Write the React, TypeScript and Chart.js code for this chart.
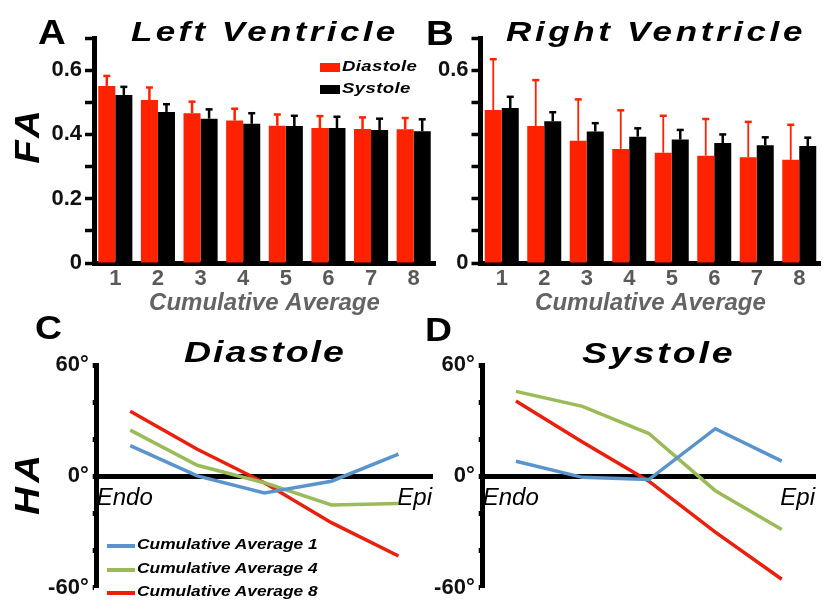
import React, { useEffect, useRef } from "react";
import { Chart, registerables } from "chart.js";

Chart.register(...registerables);

const FONT = "'Liberation Sans', Arial, Helvetica, sans-serif";
Chart.defaults.font.family = FONT;

// ---------- data ----------
const categories = ["1", "2", "3", "4", "5", "6", "7", "8"];

const lvDiastole = [0.551, 0.507, 0.466, 0.443, 0.427, 0.42, 0.417, 0.416];
const lvDiastoleSd = [0.031, 0.039, 0.036, 0.037, 0.035, 0.037, 0.036, 0.035];
const lvSystole = [0.523, 0.47, 0.449, 0.433, 0.426, 0.42, 0.414, 0.41];
const lvSystoleSd = [0.025, 0.024, 0.029, 0.033, 0.032, 0.035, 0.035, 0.037];

const rvDiastole = [0.476, 0.426, 0.38, 0.355, 0.343, 0.334, 0.329, 0.321];
const rvDiastoleSd = [0.158, 0.143, 0.129, 0.12, 0.115, 0.114, 0.11, 0.109];
const rvSystole = [0.482, 0.441, 0.409, 0.393, 0.384, 0.373, 0.366, 0.364];
const rvSystoleSd = [0.035, 0.028, 0.026, 0.026, 0.03, 0.027, 0.025, 0.026];

const faTicks = [0, 0.1, 0.2, 0.3, 0.4, 0.5, 0.6, 0.7];
const faLabelsA = ["0", "0.2", "0.4", "0.6"];
const faLabelsB = ["0", "0.6"];

const wallPositions = [0, 1, 2, 3, 4];
const wallLabels = ["Endo", "Epi"];

const diaCA1 = [16.6, 0.3, -8.9, -2.6, 12.0];
const diaCA4 = [24.9, 6.0, -3.4, -15.4, -14.6];
const diaCA8 = [35.1, 14.6, -3.4, -24.9, -42.9];

const sysCA1 = [8.2, -0.5, -1.7, 25.7, 8.2];
const sysCA4 = [45.8, 37.7, 23.1, -7.7, -28.6];
const sysCA8 = [40.6, 18.5, -2.6, -30.0, -55.4];

const haTicks = [-60, -40, -20, 0, 20, 40, 60];
const haLabels = [-60, 0, 60];

const seriesNames = ["Cumulative Average 1", "Cumulative Average 4", "Cumulative Average 8"];

// ---------- styles ----------
const RED = "#ff2200";
const BLACK = "#000000";
const BLUE = "#5a94cc";
const GREEN = "#9bbb59";
const LINE_RED = "#ea200c";
const GRAY = "#595959";

const errorBars = {
  id: "errorBars",
  afterDatasetsDraw(chart: any) {
    const ctx = chart.ctx;
    const yScale = chart.scales.y;
    chart.data.datasets.forEach((ds: any, di: number) => {
      if (!ds.sd) return;
      const meta = chart.getDatasetMeta(di);
      meta.data.forEach((bar: any, i: number) => {
        const top = yScale.getPixelForValue(ds.data[i] + ds.sd[i]);
        ctx.save();
        ctx.strokeStyle = ds.errColor;
        ctx.lineWidth = ds.errWidth;
        ctx.beginPath();
        ctx.moveTo(bar.x, bar.y);
        ctx.lineTo(bar.x, top);
        ctx.stroke();
        ctx.lineWidth = 2.5;
        ctx.beginPath();
        ctx.moveTo(bar.x - 3.5, top);
        ctx.lineTo(bar.x + 3.5, top);
        ctx.stroke();
        ctx.restore();
      });
    });
  },
};

function barConfig(
  dia: number[], diaSd: number[], sys: number[], sysSd: number[],
  labels: string[], yWidth: number, padRight: number, redErrWidth: number
): any {
  return {
    type: "bar",
    data: {
      labels: categories,
      datasets: [
        { label: "Diastole", data: dia, backgroundColor: RED, sd: diaSd, errColor: RED, errWidth: redErrWidth },
        { label: "Systole", data: sys, backgroundColor: BLACK, sd: sysSd, errColor: BLACK, errWidth: 2.5 },
      ],
    },
    options: {
      animation: false,
      responsive: false,
      layout: { padding: { top: 38, left: 0, right: padRight, bottom: 0 } },
      plugins: { legend: { display: false }, tooltip: { enabled: false } },
      datasets: { bar: { categoryPercentage: 0.8, barPercentage: 1.0 } },
      scales: {
        x: {
          grid: { drawOnChartArea: false, drawTicks: false },
          border: { display: true, color: BLACK, width: 5 },
          ticks: { color: GRAY, font: { size: 22, weight: "bold" }, padding: 3 },
          title: {
            display: true,
            text: "Cumulative Average",
            color: "#646464",
            font: { size: 24, weight: "bold", style: "italic" },
            padding: { top: 2, bottom: 2 },
          },
          afterFit: (s: any) => { s.height = 57; },
        },
        y: {
          min: 0,
          max: 0.7,
          afterBuildTicks: (s: any) => { s.ticks = faTicks.map((v) => ({ value: v })); },
          ticks: {
            autoSkip: false,
            color: "#111111",
            font: { size: 22, weight: "bold" },
            padding: 3,
            callback: (v: number) => {
              const t = Math.round(v * 10) === 0 ? "0" : (Math.round(v * 10) / 10).toFixed(1);
              return labels.includes(t) ? t : "";
            },
          },
          grid: { drawOnChartArea: false, drawTicks: true, tickLength: 9, tickWidth: 3.5, tickColor: BLACK },
          border: { display: true, color: BLACK, width: 5 },
          afterFit: (s: any) => { s.width = yWidth; },
        },
      },
    },
    plugins: [errorBars],
  };
}

function lineConfig(s1: number[], s4: number[], s8: number[], yWidth: number, padRight: number): any {
  const pts = (arr: number[]) => arr.map((v, i) => ({ x: wallPositions[i], y: v }));
  const mk = (label: string, arr: number[], color: string) => ({
    label, data: pts(arr), borderColor: color, backgroundColor: color,
    borderWidth: 3.5, pointRadius: 0, tension: 0, fill: false,
  });
  return {
    type: "line",
    data: {
      datasets: [mk(seriesNames[0], s1, BLUE), mk(seriesNames[1], s4, GREEN), mk(seriesNames[2], s8, LINE_RED)],
    },
    options: {
      animation: false,
      responsive: false,
      layout: { padding: { top: 45, left: 0, right: padRight, bottom: 8 } },
      plugins: { legend: { display: false }, tooltip: { enabled: false } },
      scales: {
        x: {
          type: "linear",
          position: { y: 0 },
          min: -0.5,
          max: 4.5,
          afterBuildTicks: (s: any) => { s.ticks = [{ value: -0.5 }, { value: 4.5 }]; },
          ticks: {
            autoSkip: false,
            maxRotation: 0,
            align: "inner",
            color: BLACK,
            font: { size: 24, style: "italic" },
            padding: 8,
            callback: (_v: number, i: number) => (i === 0 ? wallLabels[0] : wallLabels[1]),
          },
          grid: { drawOnChartArea: false, drawTicks: false },
          border: { display: true, color: BLACK, width: 5 },
        },
        y: {
          min: -60,
          max: 60,
          afterBuildTicks: (s: any) => { s.ticks = haTicks.map((v) => ({ value: v })); },
          ticks: {
            autoSkip: false,
            color: "#111111",
            font: { size: 22, weight: "bold" },
            padding: 4,
            callback: (v: number) => (haLabels.includes(v) ? `${v}°` : ""),
          },
          grid: { drawOnChartArea: false, drawTicks: true, tickLength: 4, tickWidth: 5, tickColor: BLACK },
          border: { display: true, color: BLACK, width: 5 },
          afterFit: (s: any) => { s.width = yWidth; },
        },
      },
    },
  };
}

function ChartCanvas(props: { left: number; top: number; width: number; height: number; make: () => any }) {
  const ref = useRef<HTMLCanvasElement | null>(null);
  useEffect(() => {
    if (!ref.current) return;
    const chart = new Chart(ref.current, props.make());
    return () => chart.destroy();
  }, []);
  return (
    <canvas
      ref={ref}
      width={props.width}
      height={props.height}
      style={{ position: "absolute", left: props.left, top: props.top, width: props.width, height: props.height }}
    />
  );
}

function Txt(props: {
  x: number; capTop: number; size: number; text: string; bold?: boolean; italic?: boolean;
  spacing?: number; color?: string; sx?: number;
}) {
  return (
    <div
      style={{
        position: "absolute",
        left: props.x,
        top: props.capTop - 0.13 * props.size,
        fontFamily: FONT,
        fontSize: props.size,
        lineHeight: 1,
        fontWeight: props.bold === false ? "normal" : "bold",
        fontStyle: props.italic ? "italic" : "normal",
        letterSpacing: props.spacing ?? 0,
        color: props.color ?? "#000",
        whiteSpace: "nowrap",
        transform: `scaleX(${props.sx ?? 1})`,
        transformOrigin: "0 0",
      }}
    >
      {props.text}
    </div>
  );
}

function VText(props: { cx: number; cy: number; size: number; text: string; spacing: number }) {
  return (
    <div
      style={{
        position: "absolute",
        left: props.cx,
        top: props.cy,
        transform: "translate(-50%, -50%) rotate(-90deg) scaleX(1.1)",
        fontFamily: FONT,
        fontSize: props.size,
        lineHeight: 1,
        fontWeight: "bold",
        fontStyle: "italic",
        letterSpacing: props.spacing,
        whiteSpace: "nowrap",
        paddingLeft: props.spacing,
      }}
    >
      {props.text}
    </div>
  );
}

function Swatch(props: { x: number; y: number; w: number; h: number; color: string }) {
  return (
    <div style={{ position: "absolute", left: props.x, top: props.y, width: props.w, height: props.h, background: props.color }} />
  );
}

export default function App() {
  const lineColors = [BLUE, GREEN, LINE_RED];
  return (
    <div style={{ position: "absolute", left: 0, top: 0, width: 823, height: 605, background: "#fff", overflow: "hidden" }}>
      <ChartCanvas left={0} top={0} width={440} height={320}
        make={() => barConfig(lvDiastole, lvDiastoleSd, lvSystole, lvSystoleSd, faLabelsA, 94, 5, 2.5)} />
      <ChartCanvas left={410} top={0} width={413} height={320}
        make={() => barConfig(rvDiastole, rvDiastoleSd, rvSystole, rvSystoleSd, faLabelsB, 70.5, 2.5, 1.8)} />
      <ChartCanvas left={0} top={320} width={440} height={285}
        make={() => lineConfig(diaCA1, diaCA4, diaCA8, 96.7, 2)} />
      <ChartCanvas left={410} top={320} width={413} height={285}
        make={() => lineConfig(sysCA1, sysCA4, sysCA8, 72.7, 0)} />

      <Txt x={38} capTop={19} size={35} text="A" sx={1.1} />
      <Txt x={426} capTop={20} size={35} text="B" sx={1.1} />
      <Txt x={35} capTop={314} size={34} text="C" sx={1.1} />
      <Txt x={425} capTop={316} size={34} text="D" sx={1.1} />

      <Txt x={131} capTop={22} size={28} text="Left Ventricle" italic spacing={2.7} sx={1.25} />
      <Txt x={506} capTop={22} size={28} text="Right Ventricle" italic spacing={2.9} sx={1.25} />
      <Txt x={184} capTop={341} size={30} text="Diastole" italic spacing={1.6} sx={1.25} />
      <Txt x={582} capTop={342} size={30} text="Systole" italic spacing={2.3} sx={1.25} />

      <VText cx={25.5} cy={136.5} size={35} text="FA" spacing={4} />
      <VText cx={25.5} cy={485} size={35} text="HA" spacing={4} />

      <Swatch x={320} y={62.5} w={20} h={9.5} color={RED} />
      <Txt x={342} capTop={60} size={15.5} text="Diastole" italic spacing={0.3} sx={1.2} />
      <Swatch x={320} y={84.5} w={20} h={9.5} color={BLACK} />
      <Txt x={342} capTop={82} size={15.5} text="Systole" italic spacing={0.3} sx={1.2} />

      {seriesNames.map((name, i) => (
        <React.Fragment key={name}>
          <Swatch x={107} y={[543.7, 568, 591][i]} w={28} h={4} color={lineColors[i]} />
          <Txt x={137} capTop={[538, 561.7, 585][i]} size={15.5} text={name} italic spacing={0} sx={1.12} />
        </React.Fragment>
      ))}
    </div>
  );
}
